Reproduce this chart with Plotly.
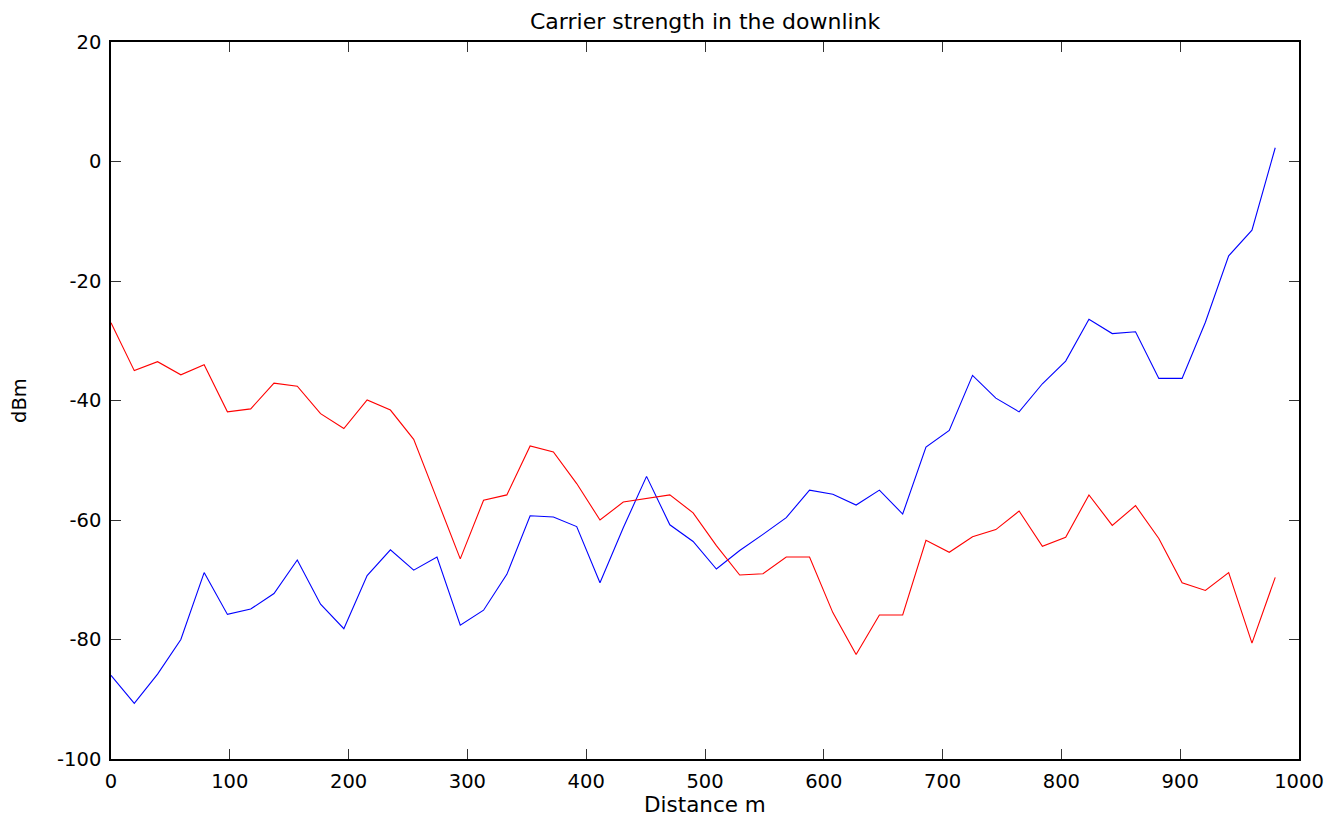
import plotly.graph_objects as go

# Distance along the route (m), one sample every 19.6 m
distance_m = [round(i * 19.6, 1) for i in range(51)]

# Carrier strength received from the serving cell (dBm)
carrier_a = [
    -86.0, -90.7, -85.8, -80.0, -68.8, -75.8, -74.9, -72.3, -66.7, -74.1,
    -78.2, -69.3, -65.0, -68.4, -66.2, -77.6, -75.1, -69.1, -59.3, -59.5,
    -61.1, -70.5, -61.3, -52.7, -60.8, -63.6, -68.2, -65.1, -62.4, -59.6,
    -55.0, -55.7, -57.5, -55.0, -59.0, -47.8, -45.0, -35.8, -39.6, -41.9,
    -37.2, -33.4, -26.4, -28.8, -28.5, -36.3, -36.3, -26.9, -15.8, -11.5,
    2.3,
]

# Carrier strength received from the other cell (dBm)
carrier_b = [
    -27.0, -35.0, -33.5, -35.7, -34.0, -41.9, -41.4, -37.1, -37.6, -42.2,
    -44.7, -39.9, -41.6, -46.5, -56.5, -66.5, -56.7, -55.8, -47.6, -48.6,
    -53.9, -60.0, -57.0, -56.4, -55.8, -58.8, -64.3, -69.2, -69.0, -66.2,
    -66.2, -75.5, -82.5, -75.9, -75.9, -63.4, -65.4, -62.8, -61.6, -58.5,
    -64.4, -62.9, -55.8, -60.9, -57.6, -63.1, -70.5, -71.8, -68.8, -80.6,
    -69.6,
]

x_ticks = list(range(0, 1001, 100))
y_ticks = list(range(-100, 21, 20))
# plain ASCII hyphen for negative labels
y_tick_labels = [str(v) for v in y_ticks]

FONT = "DejaVu Sans"

fig = go.Figure()
fig.add_trace(go.Scatter(x=distance_m, y=carrier_a, mode="lines",
                         line=dict(color="#0000ff", width=1.1), showlegend=False))
fig.add_trace(go.Scatter(x=distance_m, y=carrier_b, mode="lines",
                         line=dict(color="#ff0000", width=1.1), showlegend=False))

axis_common = dict(
    showgrid=False, zeroline=False, showline=True, mirror="ticks",
    linecolor="black", linewidth=1.5, ticks="inside", ticklen=10,
    tickwidth=1, tickcolor="#333333",
    tickfont=dict(family=FONT, size=19.5, color="black"),
)

fig.update_layout(
    width=1336, height=817,
    margin=dict(l=111, r=35, t=42, b=58),
    paper_bgcolor="white", plot_bgcolor="white",
    xaxis=dict(range=[0, 1000], tickvals=x_ticks,
               ticktext=[str(v) for v in x_ticks], ticklabelstandoff=4,
               **axis_common),
    yaxis=dict(range=[-100, 20], tickvals=y_ticks, ticktext=y_tick_labels,
               ticklabelstandoff=4, **axis_common),
    annotations=[
        dict(text="Carrier strength in the downlink", x=0.5, xref="paper",
             y=1, yref="paper", yanchor="bottom", yshift=6, showarrow=False,
             font=dict(family=FONT, size=22, color="black")),
        dict(text="Distance m", x=0.5, xref="paper", y=0, yref="paper",
             yanchor="top", yshift=-31, showarrow=False,
             font=dict(family=FONT, size=21.5, color="black")),
        dict(text="dBm", x=0, xref="paper", y=0.5, yref="paper",
             xanchor="right", xshift=-78, textangle=-90, showarrow=False,
             font=dict(family=FONT, size=19.5, color="black")),
    ],
)

fig.write_html("out.html")
